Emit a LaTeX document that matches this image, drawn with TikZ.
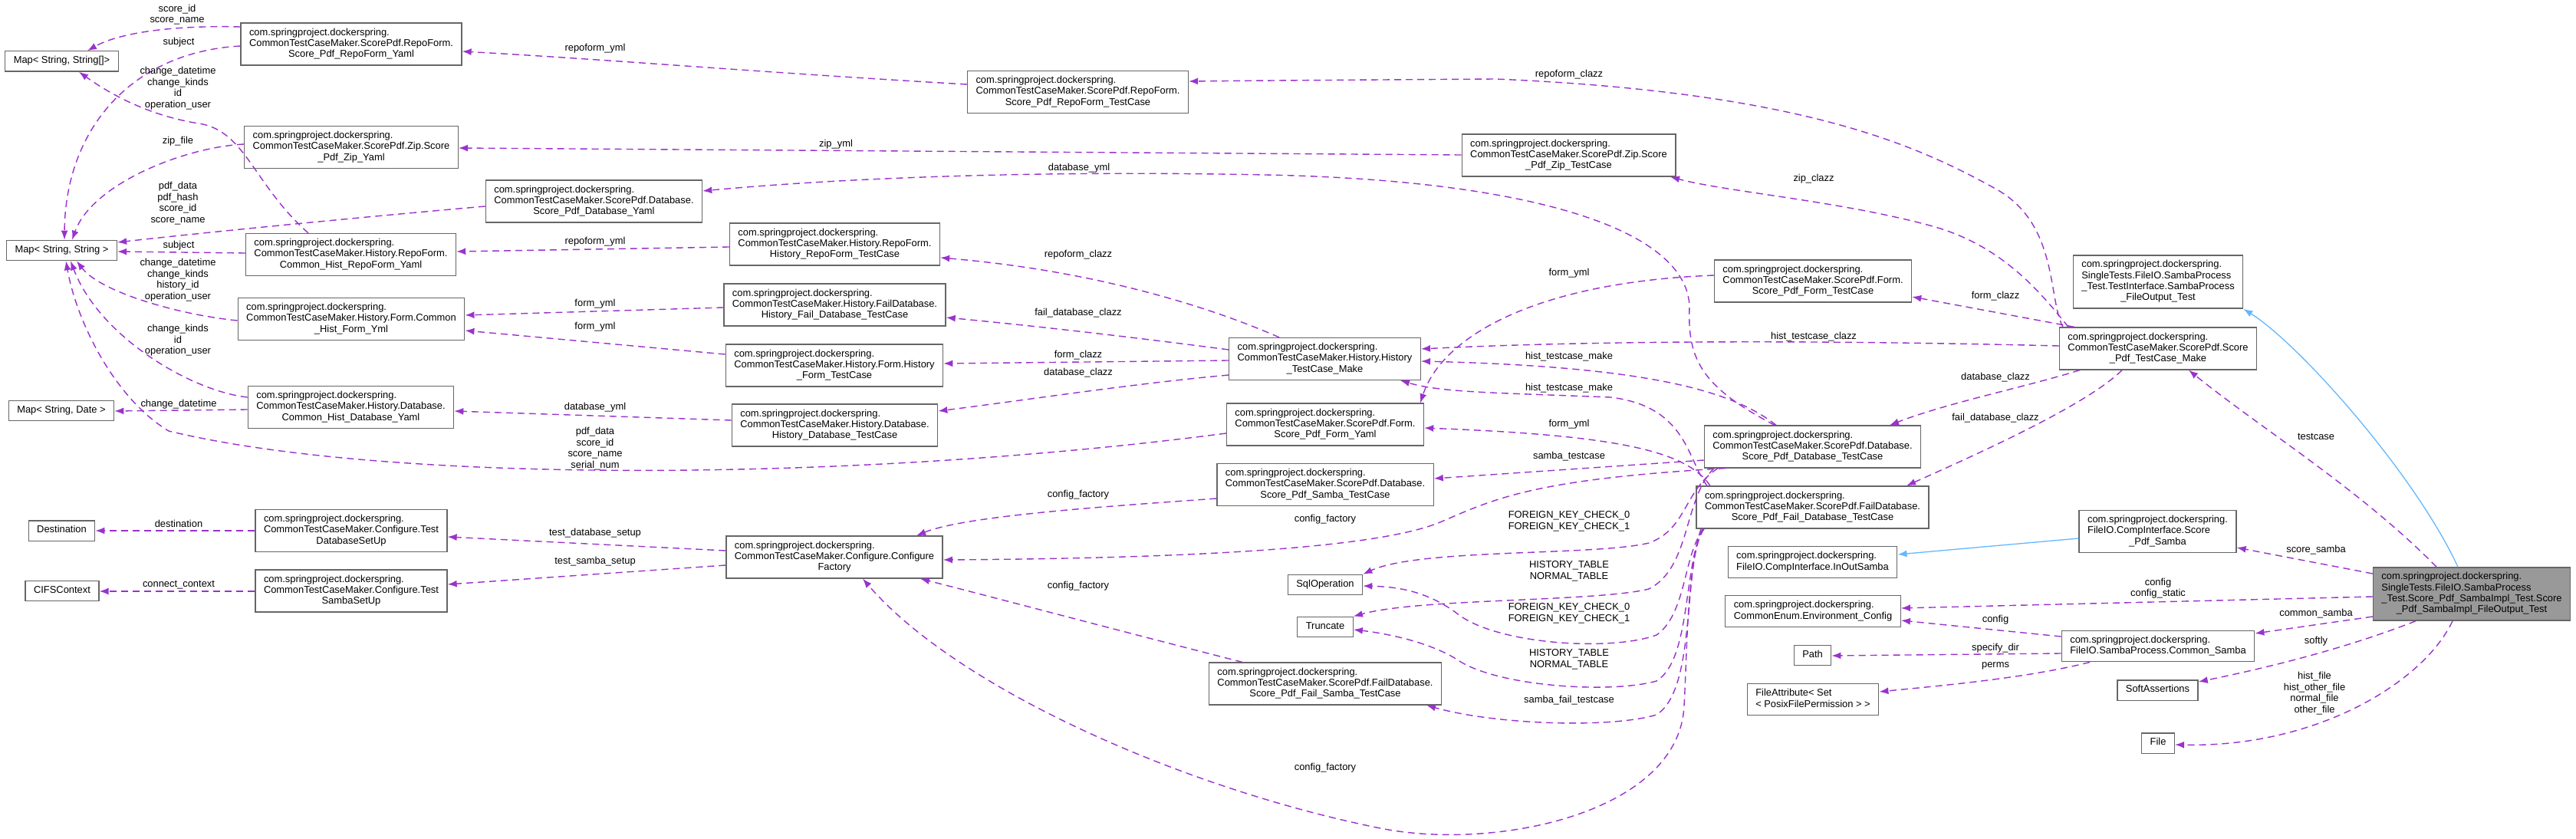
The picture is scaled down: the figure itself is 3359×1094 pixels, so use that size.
\documentclass[tikz,border=0pt]{standalone}
\usepackage{fontspec}
\setmainfont{Liberation Sans}
\usepackage{xcolor}
\usetikzlibrary{arrows.meta}
\definecolor{Orchid}{HTML}{9A32CD}
\definecolor{SkyBlue}{HTML}{63B8FF}
\definecolor{Frame}{HTML}{666666}
\definecolor{Shade}{HTML}{999999}
% class boxes: package line, middle line(s), centred last line
\newcommand{\cls}[2]{\begin{tabular}{@{}l@{}}com.springproject.dockerspring.\\#1\\\multicolumn{1}{@{}c@{}}{#2}\end{tabular}}
\newcommand{\lst}[1]{\begin{tabular}{@{}l@{}}#1\end{tabular}}

\begin{document}
\begin{tikzpicture}[x=1pt,y=-1pt,
  box/.style={draw=Frame,fill=white,line width=1.3pt,inner xsep=11pt,inner ysep=6pt,font=\fontsize{12.9}{14.3}\selectfont},
  uses/.style={Orchid,line width=1.4pt,dash pattern=on 9pt off 6pt,-{Latex[length=12pt,width=9pt]}},
  isa/.style={SkyBlue,line width=1.3pt,-{Latex[length=12pt,width=9pt]}},
  lbl/.style={text=black,font=\fontsize{12.9}{14.6}\selectfont,align=center,inner sep=0pt}]
\path[use as bounding box,fill=white] (0,0) rectangle (3359,1094);

% left column
\node[box] (mapSA) at (80.5,80) {\lst{Map< String, String[]>}};
\node[box] (mapSS) at (80.5,326.5) {\lst{Map< String, String >}};
\node[box] (mapSD) at (80,535.5) {\lst{Map< String, Date >}};
\node[box] (dest) at (80.5,692) {\lst{Destination}};
\node[box] (cifs) at (81,770.5) {\lst{CIFSContext}};

\node[box] (pdfRepoYaml) at (458,57.5) {\cls{CommonTestCaseMaker.ScorePdf.RepoForm.}{Score\_Pdf\_RepoForm\_Yaml}};
\node[box] (pdfZipYaml) at (458,192) {\cls{CommonTestCaseMaker.ScorePdf.Zip.Score}{\_Pdf\_Zip\_Yaml}};
\node[box] (pdfDbYaml) at (774.5,262.5) {\cls{CommonTestCaseMaker.ScorePdf.Database.}{Score\_Pdf\_Database\_Yaml}};
\node[box] (histRepoYaml) at (457.5,332) {\cls{CommonTestCaseMaker.History.RepoForm.}{Common\_Hist\_RepoForm\_Yaml}};
\node[box] (histFormYml) at (458,416) {\cls{CommonTestCaseMaker.History.Form.Common}{\_Hist\_Form\_Yml}};
\node[box] (histDbYaml) at (457.5,531) {\cls{CommonTestCaseMaker.History.Database.}{Common\_Hist\_Database\_Yaml}};
\node[box] (testDbSetUp) at (458,692) {\cls{CommonTestCaseMaker.Configure.Test}{DatabaseSetUp}};
\node[box] (testSambaSetUp) at (458,770.5) {\cls{CommonTestCaseMaker.Configure.Test}{SambaSetUp}};

% middle columns
\node[box] (pdfRepoCase) at (1405.5,120) {\cls{CommonTestCaseMaker.ScorePdf.RepoForm.}{Score\_Pdf\_RepoForm\_TestCase}};
\node[box] (histRepoCase) at (1088.5,318.5) {\cls{CommonTestCaseMaker.History.RepoForm.}{History\_RepoForm\_TestCase}};
\node[box] (histFailDbCase) at (1088.5,397.5) {\cls{CommonTestCaseMaker.History.FailDatabase.}{History\_Fail\_Database\_TestCase}};
\node[box] (histFormCase) at (1088,476.5) {\cls{CommonTestCaseMaker.History.Form.History}{\_Form\_TestCase}};
\node[box] (histDbCase) at (1088.5,554.5) {\cls{CommonTestCaseMaker.History.Database.}{History\_Database\_TestCase}};
\node[box] (configFactory) at (1088,726.5) {\cls{CommonTestCaseMaker.Configure.Configure}{Factory}};

\node[box] (histMake) at (1727.5,468) {\cls{CommonTestCaseMaker.History.History}{\_TestCase\_Make}};
\node[box] (pdfFormYaml) at (1728,553.5) {\cls{CommonTestCaseMaker.ScorePdf.Form.}{Score\_Pdf\_Form\_Yaml}};
\node[box] (pdfSambaCase) at (1728,632) {\cls{CommonTestCaseMaker.ScorePdf.Database.}{Score\_Pdf\_Samba\_TestCase}};
\node[box] (sqlOp) at (1728,762.5) {\lst{SqlOperation}};
\node[box] (truncate) at (1728,817.5) {\lst{Truncate}};
\node[box] (pdfFailSambaCase) at (1728,891.5) {\cls{CommonTestCaseMaker.ScorePdf.FailDatabase.}{Score\_Pdf\_Fail\_Samba\_TestCase}};

\node[box] (pdfZipCase) at (2045.5,202.5) {\cls{CommonTestCaseMaker.ScorePdf.Zip.Score}{\_Pdf\_Zip\_TestCase}};
\node[box] (pdfFormCase) at (2364,366.5) {\cls{CommonTestCaseMaker.ScorePdf.Form.}{Score\_Pdf\_Form\_TestCase}};
\node[box] (pdfDbCase) at (2363.5,582.5) {\cls{CommonTestCaseMaker.ScorePdf.Database.}{Score\_Pdf\_Database\_TestCase}};
\node[box] (pdfFailDbCase) at (2363.5,661.5) {\cls{CommonTestCaseMaker.ScorePdf.FailDatabase.}{Score\_Pdf\_Fail\_Database\_TestCase}};
\node[box] (inOutSamba) at (2363.5,733) {\lst{com.springproject.dockerspring.\\FileIO.CompInterface.InOutSamba}};
\node[box] (envConfig) at (2364,797) {\lst{com.springproject.dockerspring.\\CommonEnum.Environment\_Config}};
\node[box] (path) at (2363.5,854.5) {\lst{Path}};
\node[box] (fileAttr) at (2364,912) {\lst{FileAttribute< Set\\< PosixFilePermission > >}};

% right columns
\node[box] (testIface) at (2814,367.5) {\cls{SingleTests.FileIO.SambaProcess\\\_Test.TestInterface.SambaProcess}{\_FileOutput\_Test}};
\node[box] (pdfMake) at (2814,454.5) {\cls{CommonTestCaseMaker.ScorePdf.Score}{\_Pdf\_TestCase\_Make}};
\node[box] (pdfSamba) at (2813.5,693) {\cls{FileIO.CompInterface.Score}{\_Pdf\_Samba}};
\node[box] (commonSamba) at (2814,842.5) {\lst{com.springproject.dockerspring.\\FileIO.SambaProcess.Common\_Samba}};
\node[box] (softly) at (2813.5,900) {\lst{SoftAssertions}};
\node[box] (file) at (2814,969) {\lst{File}};
\node[box,fill=Shade] (main) at (3223,774.5) {\cls{SingleTests.FileIO.SambaProcess\\\_Test.Score\_Pdf\_SambaImpl\_Test.Score}{\_Pdf\_SambaImpl\_FileOutput\_Test}};

% edges into the maps
\draw[uses] (pdfRepoYaml.west |- 0,35) .. controls (240,33) and (160,40) .. (mapSA.north -| 114,0)
  node[lbl,at={(231,19)}] {score\_id\\score\_name};
\draw[uses] (pdfRepoYaml.west |- 0,60) .. controls (170,68) and (85,170) .. (mapSS.north -| 84,0)
  node[lbl,at={(233,55)}] {subject};
\draw[uses] (histRepoYaml.north -| 402,0) .. controls (330,240) and (320,170) .. (259,161) .. controls (190,150) and (140,120) .. (mapSA.south -| 103,0)
  node[lbl,at={(232,115)}] {change\_datetime\\change\_kinds\\id\\operation\_user};
\draw[uses] (pdfZipYaml.west |- 0,188) .. controls (240,192) and (120,240) .. (mapSS.north -| 94,0)
  node[lbl,at={(232,184)}] {zip\_file};
\draw[uses] (pdfDbYaml.west |- 0,269) .. controls (450,285) and (250,305) .. (mapSS.east |- 0,316)
  node[lbl,at={(232,265)}] {pdf\_data\\pdf\_hash\\score\_id\\score\_name};
\draw[uses] (histRepoYaml.west |- 0,330) -- (mapSS.east |- 0,328)
  node[lbl,at={(233,320)}] {subject};
\draw[uses] (histFormYml.west |- 0,418) .. controls (230,410) and (130,380) .. (mapSS.south -| 100,0)
  node[lbl,at={(232,365)}] {change\_datetime\\change\_kinds\\history\_id\\operation\_user};
\draw[uses] (histDbYaml.west |- 0,518) .. controls (250,510) and (130,440) .. (mapSS.south -| 92,0)
  node[lbl,at={(232,444)}] {change\_kinds\\id\\operation\_user};
\draw[uses] (histDbYaml.west |- 0,534) -- (mapSD.east |- 0,536)
  node[lbl,at={(233,527)}] {change\_datetime};
\draw[uses] (pdfFormYaml.west |- 0,565) .. controls (1100,630) and (500,630) .. (220,562) .. controls (150,520) and (100,420) .. (mapSS.south -| 86,0)
  node[lbl,at={(776,585)}] {pdf\_data\\score\_id\\score\_name\\serial\_num};

% yaml links
\draw[uses] (pdfRepoCase.west |- 0,110) .. controls (1000,95) and (800,78) .. (pdfRepoYaml.east |- 0,67)
  node[lbl,at={(776,63)}] {repoform\_yml};
\draw[uses] (pdfZipCase.west |- 0,202) -- (pdfZipYaml.east |- 0,193)
  node[lbl,at={(1090,188)}] {zip\_yml};
\draw[uses] (pdfDbCase.north -| 2314,0) .. controls (2220,505) and (2200,470) .. (2203,400) .. controls (2200,300) and (2000,235) .. (1650,228) .. controls (1350,222) and (1100,232) .. (pdfDbYaml.east |- 0,249)
  node[lbl,at={(1407,219)}] {database\_yml};
\draw[uses] (histRepoCase.west |- 0,322) -- (histRepoYaml.east |- 0,328)
  node[lbl,at={(776,315)}] {repoform\_yml};
\draw[uses] (histFailDbCase.west |- 0,401) -- (histFormYml.east |- 0,411)
  node[lbl,at={(776,396)}] {form\_yml};
\draw[uses] (histFormCase.west |- 0,462) -- (histFormYml.east |- 0,431)
  node[lbl,at={(776,426)}] {form\_yml};
\draw[uses] (histDbCase.west |- 0,548) -- (histDbYaml.east |- 0,536)
  node[lbl,at={(776,531)}] {database\_yml};

% history test case maker
\draw[uses] (histMake.north -| 1668,0) .. controls (1600,410) and (1450,355) .. (histRepoCase.east |- 0,336)
  node[lbl,at={(1406,332)}] {repoform\_clazz};
\draw[uses] (histMake.west |- 0,456) .. controls (1480,440) and (1350,425) .. (histFailDbCase.east |- 0,414)
  node[lbl,at={(1406,408)}] {fail\_database\_clazz};
\draw[uses] (histMake.west |- 0,470) -- (histFormCase.east |- 0,474)
  node[lbl,at={(1406,463)}] {form\_clazz};
\draw[uses] (histMake.west |- 0,489) .. controls (1480,500) and (1350,520) .. (histDbCase.east |- 0,536)
  node[lbl,at={(1406,486)}] {database\_clazz};

% configure factory
\draw[uses] (configFactory.west |- 0,718) -- (testDbSetUp.east |- 0,700)
  node[lbl,at={(776,695)}] {test\_database\_setup};
\draw[uses] (configFactory.west |- 0,737) -- (testSambaSetUp.east |- 0,762)
  node[lbl,at={(776,732)}] {test\_samba\_setup};
\draw[uses] (testDbSetUp.west |- 0,692) -- (dest.east |- 0,692)
  node[lbl,at={(233,683)}] {destination};
\draw[uses] (testSambaSetUp.west |- 0,771) -- (cifs.east |- 0,771)
  node[lbl,at={(233,763)}] {connect\_context};
\draw[uses] (pdfSambaCase.west |- 0,650) .. controls (1450,660) and (1260,672) .. (configFactory.north -| 1195,0)
  node[lbl,at={(1406,645)}] {config\_factory};
\draw[uses] (pdfDbCase.south -| 2250,0) .. controls (2000,625) and (1950,650) .. (1880,680) .. controls (1800,715) and (1550,728) .. (configFactory.east |- 0,730)
  node[lbl,at={(1728,677)}] {config\_factory};
\draw[uses] (pdfFailSambaCase.north -| 1620,0) .. controls (1450,820) and (1300,780) .. (configFactory.south -| 1200,0)
  node[lbl,at={(1406,764)}] {config\_factory};
\draw[uses] (pdfFailDbCase.south -| 2222,0) .. controls (2200,720) and (2200,850) .. (2196,920) .. controls (2190,1060) and (1950,1110) .. (1800,1080) .. controls (1550,1030) and (1250,900) .. (configFactory.south -| 1125,0)
  node[lbl,at={(1728,1001)}] {config\_factory};

% score pdf database test cases
\draw[uses] (pdfFormCase.west |- 0,359) .. controls (2000,368) and (1880,440) .. (pdfFormYaml.north -| 1852,0)
  node[lbl,at={(2046,356)}] {form\_yml};
\draw[uses] (pdfFailDbCase.north -| 2230,0) .. controls (2200,590) and (2120,568) .. (pdfFormYaml.east |- 0,558)
  node[lbl,at={(2046,553)}] {form\_yml};
\draw[uses] (pdfDbCase.north -| 2316,0) .. controls (2260,510) and (2150,478) .. (histMake.east |- 0,471)
  node[lbl,at={(2046,465)}] {hist\_testcase\_make};
\draw[uses] (pdfFailDbCase.north -| 2226,0) .. controls (2200,600) and (2200,530) .. (2100,518) .. controls (1950,512) and (1880,512) .. (histMake.south -| 1826,0)
  node[lbl,at={(2046,506)}] {hist\_testcase\_make};
\draw[uses] (pdfDbCase.west |- 0,600) -- (pdfSambaCase.east |- 0,624)
  node[lbl,at={(2046,595)}] {samba\_testcase};
\draw[uses] (pdfDbCase.south -| 2240,0) .. controls (2195,640) and (2200,690) .. (2150,708) .. controls (2080,725) and (1850,715) .. (sqlOp.north east)
  node[lbl,at={(2046,680)}] {FOREIGN\_KEY\_CHECK\_0\\FOREIGN\_KEY\_CHECK\_1};
\draw[uses] (pdfFailDbCase.south -| 2222,0) .. controls (2195,720) and (2200,800) .. (2160,828) .. controls (2100,850) and (1950,840) .. (1900,800) .. controls (1860,770) and (1820,765) .. (sqlOp.east |- 0,764)
  node[lbl,at={(2046,800)}] {FOREIGN\_KEY\_CHECK\_0\\FOREIGN\_KEY\_CHECK\_1};
\draw[uses] (pdfDbCase.south -| 2235,0) .. controls (2195,650) and (2205,740) .. (2150,768) .. controls (2080,785) and (1850,780) .. (truncate.north east)
  node[lbl,at={(2046,745)}] {HISTORY\_TABLE\\NORMAL\_TABLE};
\draw[uses] (pdfFailDbCase.south -| 2220,0) .. controls (2195,740) and (2205,860) .. (2160,888) .. controls (2100,905) and (1950,895) .. (1900,860) .. controls (1860,835) and (1800,825) .. (truncate.east |- 0,821)
  node[lbl,at={(2046,860)}] {HISTORY\_TABLE\\NORMAL\_TABLE};
\draw[uses] (pdfFailDbCase.south -| 2218,0) .. controls (2195,760) and (2210,900) .. (2160,932) .. controls (2100,950) and (1950,945) .. (pdfFailSambaCase.south -| 1860,0)
  node[lbl,at={(2046,913)}] {samba\_fail\_testcase};

% score pdf test case maker
\draw[uses] (pdfMake.north -| 2690,0) .. controls (2670,390) and (2685,290) .. (2600,245) .. controls (2500,190) and (2350,120) .. (1950,103) .. controls (1800,104) and (1650,105) .. (pdfRepoCase.east |- 0,106)
  node[lbl,at={(2046,97)}] {repoform\_clazz};
\draw[uses] (pdfMake.north -| 2697,0) .. controls (2660,380) and (2610,320) .. (2520,295) .. controls (2400,262) and (2250,250) .. (pdfZipCase.south -| 2178,0)
  node[lbl,at={(2365,233)}] {zip\_clazz};
\draw[uses] (pdfMake.north -| 2705,0) -- (pdfFormCase.east |- 0,387)
  node[lbl,at={(2602,386)}] {form\_clazz};
\draw[uses] (pdfMake.west |- 0,451) .. controls (2400,444) and (2100,443) .. (histMake.east |- 0,455)
  node[lbl,at={(2365,439)}] {hist\_testcase\_clazz};
\draw[uses] (pdfMake.south -| 2712,0) .. controls (2640,505) and (2540,525) .. (pdfDbCase.north -| 2464,0)
  node[lbl,at={(2602,492)}] {database\_clazz};
\draw[uses] (pdfMake.south -| 2767,0) .. controls (2720,530) and (2560,600) .. (pdfFailDbCase.north -| 2486,0)
  node[lbl,at={(2602,545)}] {fail\_database\_clazz};

% inheritance
\draw[isa] (main.north -| 3205,0) .. controls (3150,620) and (3000,450) .. (testIface.south east);
\draw[isa] (pdfSamba.west |- 0,702) -- (inOutSamba.east |- 0,723);

% the test class itself
\draw[uses] (main.north -| 3177,0) .. controls (3080,640) and (2950,560) .. (pdfMake.south -| 2854,0)
  node[lbl,at={(3020,569)}] {testcase};
\draw[uses] (main.west |- 0,748) -- (pdfSamba.east |- 0,714)
  node[lbl,at={(3020,717)}] {score\_samba};
\draw[uses] (main.west |- 0,778) -- (envConfig.east |- 0,793)
  node[lbl,at={(2814,767)}] {config\\config\_static};
\draw[uses] (main.west |- 0,804) -- (commonSamba.east |- 0,826)
  node[lbl,at={(3020,800)}] {common\_samba};
\draw[uses] (main.south -| 3150,0) .. controls (3060,845) and (2960,870) .. (softly.east |- 0,889)
  node[lbl,at={(3020,836)}] {softly};
\draw[uses] (main.south -| 3198,0) .. controls (3160,890) and (3020,975) .. (file.east |- 0,971)
  node[lbl,at={(3018,904)}] {hist\_file\\hist\_other\_file\\normal\_file\\other\_file};
\draw[uses] (commonSamba.west |- 0,830) -- (envConfig.east |- 0,809)
  node[lbl,at={(2602,808)}] {config};
\draw[uses] (commonSamba.west |- 0,852) -- (path.east |- 0,855)
  node[lbl,at={(2602,845)}] {specify\_dir};
\draw[uses] (commonSamba.south -| 2725,0) .. controls (2640,885) and (2520,895) .. (fileAttr.east |- 0,902)
  node[lbl,at={(2602,868)}] {perms};
\end{tikzpicture}
\end{document}
